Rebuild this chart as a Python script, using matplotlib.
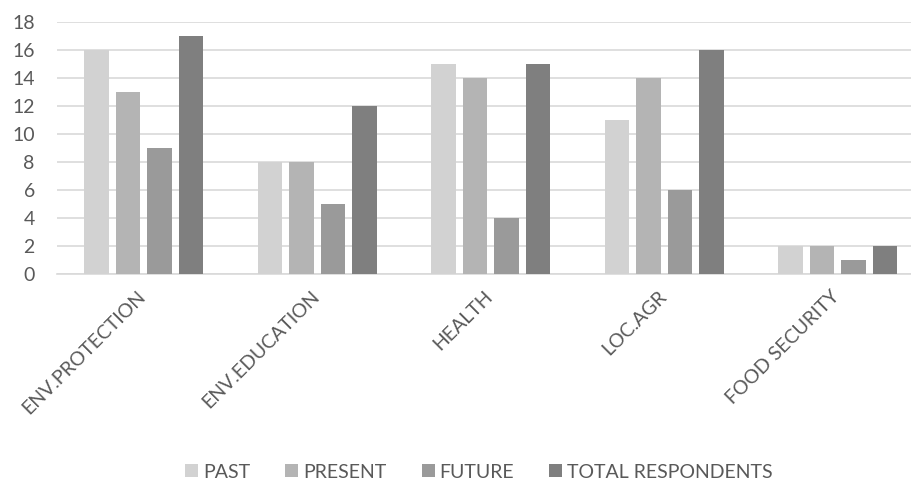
import matplotlib
matplotlib.use("Agg")
import matplotlib.pyplot as plt
import numpy as np

categories = ["ENV.PROTECTION", "ENV.EDUCATION", "HEALTH", "LOC.AGR", "FOOD SECURITY"]
series_names = ["PAST", "PRESENT", "FUTURE", "TOTAL RESPONDENTS"]
past = [16, 8, 15, 11, 2]
present = [13, 8, 14, 14, 2]
future = [9, 5, 4, 6, 1]
total = [17, 12, 15, 16, 2]
yticks = [0, 2, 4, 6, 8, 10, 12, 14, 16, 18]

colors = ["#d2d2d2", "#b4b4b4", "#9a9a9a", "#7f7f7f"]
text_color = "#595959"

fs = 14
plt.rcParams['font.family'] = ['Lato', 'DejaVu Sans']

fig = plt.figure(figsize=(9.12, 4.79), dpi=100)
ax = fig.add_axes([57/912, 1-274/479, 867.5/912, 252/479])

x = np.arange(len(categories))
slot = 0.1816
bw = 0.141
data = [past, present, future, total]
for i, (vals, name, c) in enumerate(zip(data, series_names, colors)):
    ax.bar(x + (i - 1.5) * slot, vals, width=bw, color=c, label=name, zorder=3)

ax.set_xlim(-0.5, len(categories) - 0.5)
ax.set_ylim(0, 18)
ax.set_yticks(yticks)
ax.set_yticklabels([str(v) for v in yticks], fontsize=fs, color=text_color)
ax.yaxis.grid(True, color="#d9d9d9", linewidth=1.2, zorder=0)
ax.set_axisbelow(True)
for s in ["top", "right", "left"]:
    ax.spines[s].set_visible(False)
ax.spines["bottom"].set_color("#d9d9d9")
ax.spines["bottom"].set_linewidth(1.2)
ax.tick_params(axis="y", length=0, pad=16)
ax.tick_params(axis="x", length=0, pad=10)
ax.set_xticks(x - 0.04)
ax.set_xticklabels(categories, rotation=45, ha="right", rotation_mode="anchor",
                   fontsize=fs, color=text_color)

leg = fig.legend(loc="center", bbox_to_anchor=(479/912, 1-472/479), ncol=4, frameon=False,
                 fontsize=fs, handlelength=0.67, handleheight=0.67, handletextpad=0.26,
                 columnspacing=1.8, borderpad=0, borderaxespad=0)
for t in leg.get_texts():
    t.set_color(text_color)

fig.savefig("out.png", dpi=100)
